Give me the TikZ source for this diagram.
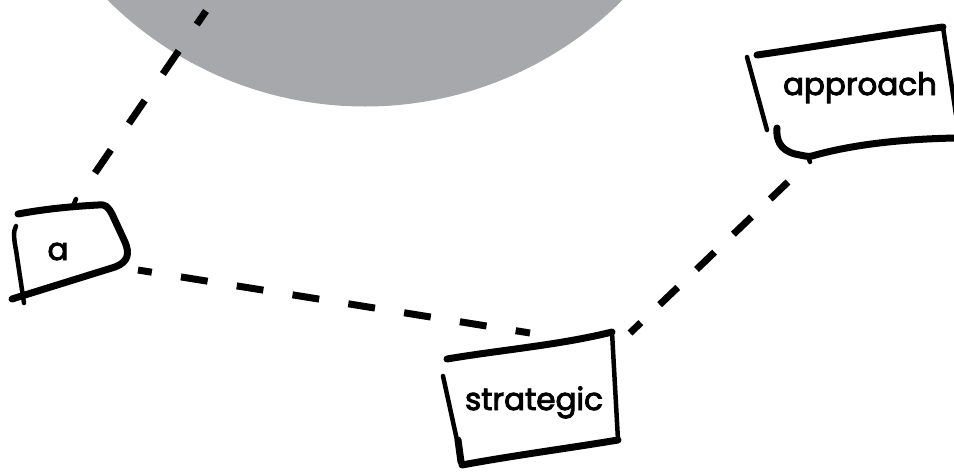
\documentclass[tikz,border=0pt]{standalone}
\usepackage{fontspec}
\setmainfont{Poppins}
\newfontfamily\lblfont{Poppins}[FakeBold=3]
\definecolor{discgray}{HTML}{A7A8AB}
\tikzset{
  sketch/.style={line width=7pt, line cap=round, line join=round, black},
  thinsketch/.style={line width=4.5pt, line cap=round, line join=round, black},
  conn/.style={line width=7pt, black},
  lbl/.style={font=\lblfont\fontsize{31}{34}\selectfont, anchor=base, inner sep=0pt}
}
\begin{document}
\begin{tikzpicture}[x=1pt, y=-1pt]
\useasboundingbox (0,0) rectangle (954,472);
\clip (0,0) rectangle (954,472);
% disc
\fill[discgray] (365,-258) circle [radius=364.5pt];

% box a
\draw[sketch] (18,214) .. controls (50,208) and (80,206) .. (98,205)
  .. controls (106,204) and (108,207) .. (112,214) -- (125,242)
  .. controls (130,254) and (128,262) .. (115,267) -- (12,299);
\draw[thinsketch] (73,206) -- (76,199);
\draw[thinsketch] (16,226) .. controls (13,231) and (14,240) .. (16,250) -- (24,303);
\node[lbl] (ta) at (58,260) {a};

% box strategic
\draw[sketch] (447,359) .. controls (500,350) and (560,345) .. (612,332);
\draw[thinsketch] (612,332) -- (618,440);
\draw[sketch] (618,440) .. controls (570,448) and (510,456) .. (462,465);
\draw[thinsketch] (443,376) -- (462,463);
\draw[sketch] (458,440) -- (461,462);
\node[lbl] (ts) at (534,410) {strategic};

% box approach
\draw[sketch] (757,55) .. controls (820,46) and (890,34) .. (943,27);
\draw[thinsketch] (943,27) -- (956,115);
\draw[thinsketch] (747,57) -- (767,130);
\draw[sketch] (777,128) .. controls (776,140) and (780,150) .. (795,154)
  .. controls (805,156) and (808,157) .. (812,156)
  .. controls (850,145) and (900,139) .. (956,138);
\draw[thinsketch] (808,156) -- (810,162);
\node[lbl] (tp) at (860,95) {approach};

% connector end points
\coordinate (a1) at (95,173);
\coordinate (c1) at (206,11);
\coordinate (a2) at (138,270);
\coordinate (s1) at (530,333);
\coordinate (s2) at (630,333);
\coordinate (p1) at (788,182);

% connectors
\draw[conn, dash pattern=on 28pt off 32pt] (a1) -- (c1);
\draw[conn, dash pattern=on 27pt off 29.5pt, dash phase=13pt] (a2) -- (s1);
\draw[conn, dash pattern=on 25pt off 26pt, dash phase=10pt] (s2) -- (p1);
\end{tikzpicture}
\end{document}
